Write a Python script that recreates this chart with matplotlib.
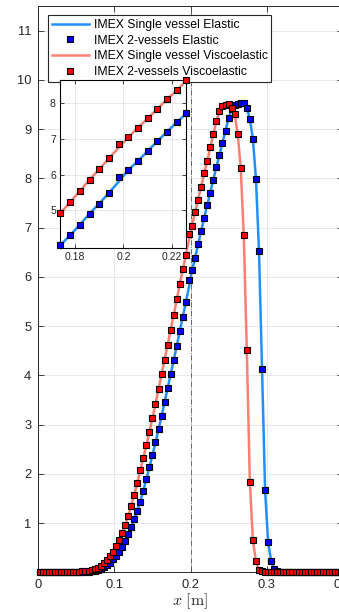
import numpy as np
import matplotlib
matplotlib.use("Agg")
import matplotlib.pyplot as plt

plt.rcParams['font.family'] = ['Liberation Sans', 'DejaVu Sans']
plt.rcParams['mathtext.fontset'] = 'cm'

# ---- data -------------------------------------------------------------
x_cells = [
    0.002, 0.006, 0.010, 0.014, 0.018, 0.022, 0.026, 0.030, 0.034, 0.038,
    0.042, 0.046, 0.050, 0.054, 0.058, 0.062, 0.066, 0.070, 0.074, 0.078,
    0.082, 0.086, 0.090, 0.094, 0.098, 0.102, 0.106, 0.110, 0.114, 0.118,
    0.122, 0.126, 0.130, 0.134, 0.138, 0.142, 0.146, 0.150, 0.154, 0.158,
    0.162, 0.166, 0.170, 0.174, 0.178, 0.182, 0.186, 0.190, 0.194, 0.198,
    0.202, 0.206, 0.210, 0.214, 0.218, 0.222, 0.226, 0.230, 0.234, 0.238,
    0.242, 0.246, 0.250, 0.254, 0.258, 0.262, 0.266, 0.270, 0.274, 0.278,
    0.282, 0.286, 0.290, 0.294, 0.298, 0.302, 0.306, 0.310, 0.314, 0.318,
    0.322, 0.326, 0.330, 0.334, 0.338, 0.342, 0.346, 0.350, 0.354, 0.358,
    0.362, 0.366, 0.370, 0.374, 0.378, 0.382, 0.386, 0.390, 0.394, 0.398,
]

# IMEX 2-vessels Elastic (markers)
elastic_2v = [
    0.0, 0.0, 0.0, 0.0, 0.0, 0.0, 0.0, 0.0, 0.0, 0.0,
    0.001, 0.002, 0.003, 0.004, 0.006, 0.008, 0.011, 0.02, 0.03, 0.05,
    0.07, 0.10, 0.14, 0.19, 0.26, 0.33, 0.42, 0.52, 0.64, 0.78,
    0.91, 1.08, 1.25, 1.43, 1.66, 1.89, 2.13, 2.38, 2.64, 2.90,
    3.17, 3.46, 3.74, 4.03, 4.31, 4.60, 4.91, 5.19, 5.49, 5.94,
    6.13, 6.38, 6.66, 6.93, 7.20, 7.46, 7.71, 7.97, 8.23, 8.47,
    8.72, 8.97, 9.22, 9.40, 9.48, 9.52, 9.53, 9.53, 9.43, 9.21,
    8.80, 7.99, 6.53, 4.13, 1.67, 0.61, 0.23, 0.06, 0.02, 0.01,
    0.0, 0.0, 0.0, 0.0, 0.0, 0.0, 0.0, 0.0, 0.0, 0.0,
    0.0, 0.0, 0.0, 0.0, 0.0, 0.0, 0.0, 0.0, 0.0, 0.0,
]

# IMEX 2-vessels Viscoelastic (markers)
visco_2v = [
    0.0, 0.0, 0.0, 0.0, 0.0, 0.0, 0.0, 0.0, 0.002, 0.003,
    0.005, 0.007, 0.010, 0.013, 0.018, 0.024, 0.03, 0.04, 0.06, 0.09,
    0.13, 0.19, 0.25, 0.33, 0.42, 0.53, 0.65, 0.80, 0.96, 1.14,
    1.35, 1.57, 1.81, 2.07, 2.32, 2.58, 2.85, 3.13, 3.42, 3.72,
    4.02, 4.32, 4.62, 4.93, 5.23, 5.54, 5.86, 6.15, 6.45, 6.86,
    7.04, 7.31, 7.57, 7.83, 8.11, 8.35, 8.63, 8.90, 9.16, 9.36,
    9.46, 9.49, 9.50, 9.42, 9.31, 8.90, 8.21, 6.84, 4.52, 1.83,
    0.65, 0.22, 0.05, 0.02, 0.01, 0.0, 0.0, 0.0, 0.0, 0.0,
    0.0, 0.0, 0.0, 0.0, 0.0, 0.0, 0.0, 0.0, 0.0, 0.0,
    0.0, 0.0, 0.0, 0.0, 0.0, 0.0, 0.0, 0.0, 0.0, 0.0,
]

# single-vessel solutions: identical except at the junction cell (x=0.198)
elastic_1v = list(elastic_2v)
elastic_1v[49] = 5.80
visco_1v = list(visco_2v)
visco_1v[49] = 6.75

labels = ['IMEX Single vessel Elastic', 'IMEX 2-vessels Elastic',
          'IMEX Single vessel Viscoelastic', 'IMEX 2-vessels Viscoelastic']
main_xticks = [0, 0.1, 0.2, 0.3, 0.4]
main_xticklabels = ['0', '0.1', '0.2', '0.3', '0.4']
main_yticks = [1, 2, 3, 4, 5, 6, 7, 8, 9, 10, 11]
inset_xticks = [0.18, 0.2, 0.22]
inset_xticklabels = ['0.18', '0.2', '0.22']
inset_yticks = [5, 6, 7, 8]
junction_x = 0.2

# ---- styling ----------------------------------------------------------
c_blue_line = '#1E90FF'
c_red_line = '#FA8072'
c_blue_mk = '#0000FF'
c_red_mk = '#FF0000'
txt = '#262626'
grid_c = '#e3e3e3'

W, H = 339, 612
fig = plt.figure(figsize=(W / 100, H / 100), dpi=100)

ax_l, ax_r, ax_t, ax_b = 38.3, 342.7, 6.0, 572.3
ax = fig.add_axes([ax_l / W, 1 - ax_b / H, (ax_r - ax_l) / W, (ax_b - ax_t) / H])

x = np.array(x_cells)


def draw(a, xs, ms, mask=None, clip=True):
    if mask is None:
        mask = np.ones(len(xs), dtype=bool)
    xs = xs[mask]
    h1, = a.plot(xs, np.array(elastic_1v)[mask], '-', color=c_blue_line, lw=1.8, zorder=3)
    h2, = a.plot(xs, np.array(elastic_2v)[mask], 's', ms=ms, mfc=c_blue_mk, mec='black',
                 mew=0.8, ls='none', zorder=4, clip_on=clip)
    h3, = a.plot(xs, np.array(visco_1v)[mask], '-', color=c_red_line, lw=1.8, zorder=5)
    h4, = a.plot(xs, np.array(visco_2v)[mask], 's', ms=ms, mfc=c_red_mk, mec='black',
                 mew=0.8, ls='none', zorder=6, clip_on=clip)
    return [h1, h2, h3, h4]


handles = draw(ax, x, 4.5, clip=False)
ax.axvline(junction_x, color='#555555', lw=0.6, ls='-.', zorder=2)

ax.set_xlim(0, 0.4)
ax.set_ylim(0, 11.5)
ax.set_xticks(main_xticks)
ax.set_xticklabels(main_xticklabels)
ax.set_yticks(main_yticks)
ax.grid(True, color=grid_c, lw=0.6)
ax.set_axisbelow(True)
ax.tick_params(direction='in', length=4, width=0.6, colors=txt, labelsize=9.3,
               top=True, right=True)
ax.tick_params(axis='y', pad=5)
ax.tick_params(axis='x', pad=5)
for s in ax.spines.values():
    s.set_color(txt)
    s.set_linewidth(0.7)
ax.set_xlabel(r'$x\ [\mathrm{m}]$', fontsize=11.5, color=txt, labelpad=0)

leg = ax.legend(handles, labels, loc='upper left',
                bbox_to_anchor=(48.3 / W, 1 - 15.3 / H), bbox_transform=fig.transFigure,
                fontsize=8.8, frameon=True, fancybox=False, edgecolor=txt,
                framealpha=1, borderpad=0.3, handlelength=3.0, handletextpad=0.4,
                labelspacing=0.3, borderaxespad=0, numpoints=1)
leg.get_frame().set_linewidth(0.8)
for t in leg.get_texts():
    t.set_color('black')

# ---- inset ------------------------------------------------------------
in_l, in_r, in_t, in_b = 60.0, 186.0, 80.0, 248.0
axin = fig.add_axes([in_l / W, 1 - in_b / H, (in_r - in_l) / W, (in_b - in_t) / H])
axin.set_facecolor('white')
ixlim = (0.1738, 0.2258)
iylim = (3.95, 8.64)
sel = (x >= ixlim[0] - 0.0004) & (x <= ixlim[1] + 0.0004)
draw(axin, x, 4.6, mask=sel, clip=False)
axin.set_xlim(*ixlim)
axin.set_ylim(*iylim)
axin.set_xticks(inset_xticks)
axin.set_xticklabels(inset_xticklabels)
axin.set_yticks(inset_yticks)
axin.grid(True, color=grid_c, lw=0.6)
axin.set_axisbelow(True)
axin.tick_params(direction='in', length=3, width=0.6, colors=txt, labelsize=7.5,
                 top=True, right=True, pad=3)
for s in axin.spines.values():
    s.set_color('black')
    s.set_linewidth(0.8)

fig.savefig('out.png', dpi=100)
